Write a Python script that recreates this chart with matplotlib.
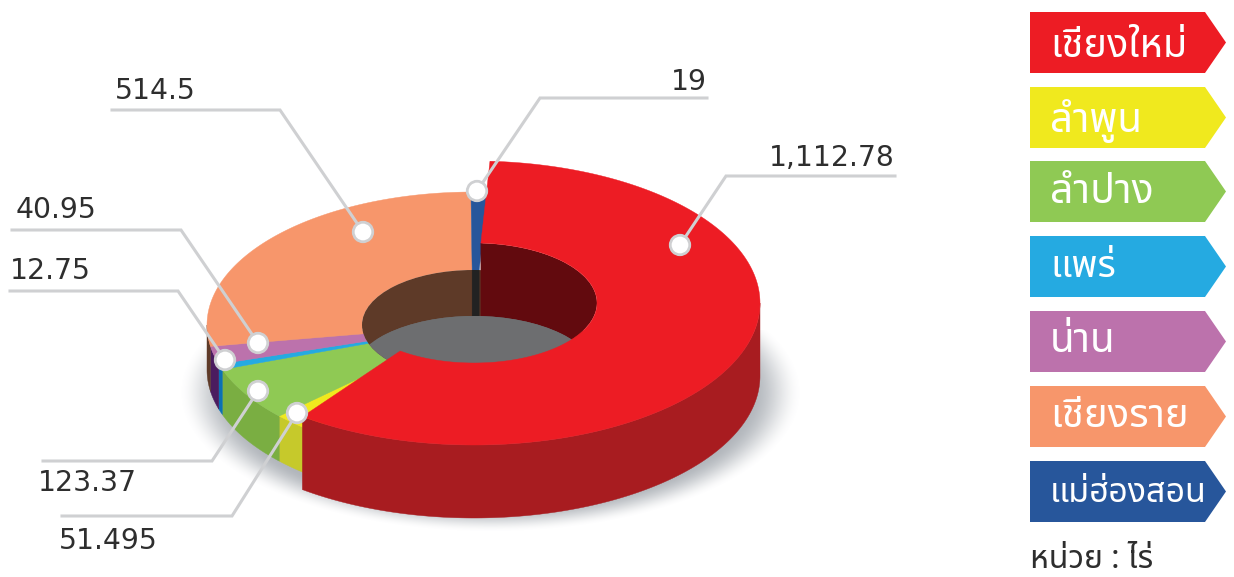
import numpy as np
import matplotlib
matplotlib.use("Agg")
import matplotlib.pyplot as plt
from matplotlib.patches import Polygon, Ellipse

# provinces and areas, clockwise starting with the big red slice
names = ['เชียงใหม่', 'ลำพูน', 'ลำปาง', 'แพร่', 'น่าน', 'เชียงราย', 'แม่ฮ่องสอน']
values = [1112.78, 51.495, 123.37, 12.75, 40.95, 514.5, 19]
value_labels = ['1,112.78', '51.495', '123.37', '12.75', '40.95', '514.5', '19']
unit_label = 'หน่วย : ไร่'

top_colors = ['#ED1C24', '#F0E91E', '#8FC954', '#25AAE1', '#BC72AC', '#F7966B', '#27569B']
wall_colors = ['#A81C20', '#C6C92B', '#7AAE42', '#0B70B5', '#4B1C5F', '#5E3A28', '#222222']

thai_font = ['Noto Sans Thai', 'Anuphan', 'DejaVu Sans']

plt.rcParams['font.family'] = ['DejaVu Sans']
fig = plt.figure(figsize=(12.34, 5.77), dpi=100)
ax = fig.add_axes([0, 0, 1, 1])
ax.set_xlim(0, 1234)
ax.set_ylim(577, 0)
ax.axis('off')

# red slice is taller and a bit larger than the rest
red_geo = dict(cx=474, cy=303, rx=286, ry=142, irx=123, iry=60, h=73)
rest_geo = dict(cx=473, cy=325, rx=266, ry=133, irx=111, iry=55, h=45)

start = 3.2
edges = start + np.concatenate([[0], np.cumsum(values)]) / np.sum(values) * 360


def rim(g, a0, a1, inner=False):
    # angles in degrees clockwise from the top
    t = np.radians(np.linspace(a0, a1, max(int(abs(a1 - a0)) * 2, 4)))
    rx = g['irx'] if inner else g['rx']
    ry = g['iry'] if inner else g['ry']
    return np.column_stack([g['cx'] + rx * np.sin(t), g['cy'] - ry * np.cos(t)])


def draw_top(g, a0, a1, color, z):
    pts = np.vstack([rim(g, a0, a1), rim(g, a1, a0, inner=True)])
    ax.add_patch(Polygon(pts, closed=True, fc=color, ec=color, lw=0.3, zorder=z))


def draw_wall(g, a0, a1, color, z, inner=False, h=None):
    h = g['h'] if h is None else h
    up = rim(g, a0, a1, inner)
    down = up[::-1] + [0, h]
    return ax.add_patch(Polygon(np.vstack([up, down]), closed=True, fc=color, ec=color, lw=0.3, zorder=z))


# soft shadow under the ring
yy, xx = np.mgrid[330:560, 150:840]
d = np.sqrt(((xx - 490) / 312) ** 2 + ((yy - 392) / 140) ** 2)
fade = np.clip((1.0 - d) / 0.17, 0, 1)
fade = fade * fade * (3 - 2 * fade)
shadow = np.zeros(d.shape + (4,))
shadow[..., :3] = [0.45, 0.48, 0.52]
shadow[..., 3] = 0.55 * fade
ax.imshow(shadow, extent=(150, 840, 560, 330), zorder=1, interpolation='bilinear', aspect='auto')
ax.set_xlim(0, 1234)
ax.set_ylim(577, 0)

# everything except the red slice
for i in range(1, 7):
    a0, a1 = edges[i], edges[i + 1]
    if a0 < 270:
        draw_wall(rest_geo, a0, min(a1, 270), wall_colors[i], 2)
    draw_top(rest_geo, a0, a1, top_colors[i], 3)

# the hole
hole_a = Ellipse((rest_geo['cx'], rest_geo['cy']), 2 * rest_geo['irx'], 2 * rest_geo['iry'],
                 fc=wall_colors[5], ec='none', zorder=4)
ax.add_patch(hole_a)
strip = draw_wall(rest_geo, edges[6], edges[7], wall_colors[6], 5, inner=True, h=70)
strip.set_clip_path(hole_a)
hole_r = Ellipse((red_geo['cx'], red_geo['cy']), 2 * red_geo['irx'], 2 * red_geo['iry'],
                 fc='none', ec='none', zorder=4)
ax.add_patch(hole_r)
inner_red = draw_wall(red_geo, edges[0], 125, '#620A0E', 5, inner=True, h=85)
inner_red.set_clip_path(hole_r)
for clip in [hole_a, hole_r]:
    floor = Ellipse((red_geo['cx'], red_geo['cy'] + 73), 2 * red_geo['irx'], 2 * red_geo['iry'],
                    fc='#6D6E70', ec='none', zorder=6)
    ax.add_patch(floor)
    floor.set_clip_path(clip)

# red slice on top of all of it
draw_wall(red_geo, 90, edges[1], wall_colors[0], 7)
draw_top(red_geo, edges[0], edges[1], top_colors[0], 8)

# leader lines: dot, elbow, end of the line, text anchor (same order as values)
dots = [(680, 245), (297, 413), (258, 391), (225, 360), (258, 343), (363, 232), (477, 191)]
elbows = [(726, 176), (232, 516), (212, 461), (178, 291), (181, 230), (280, 110), (540, 98)]
ends = [(895, 176), (62, 516), (43, 461), (10, 291), (12, 230), (112, 110), (707, 98)]
text_pos = [(895, 158, 'right'), (59, 541, 'left'), (38, 483, 'left'), (10, 271, 'left'),
            (16, 210, 'left'), (115, 91, 'left'), (707, 82, 'right')]
for i in range(7):
    ax.plot([dots[i][0], elbows[i][0], ends[i][0]], [dots[i][1], elbows[i][1], ends[i][1]],
            color='#CFD0D2', lw=2.2, zorder=9, solid_joinstyle='miter')
    ax.add_patch(Ellipse(dots[i], 19.5, 19.5, fc='white', ec='#CFD0D2', lw=2.0, zorder=10))
    ax.text(text_pos[i][0], text_pos[i][1], value_labels[i], ha=text_pos[i][2], va='center',
            fontsize=20.3, color='#2E2E2E', zorder=11)

# arrow shaped legend tabs on the right
tab_tops = [12, 87, 161, 236, 311, 386, 461]
tab_h = 61
name_sizes = [28.5, 29, 29.5, 27, 29, 28.8, 24.5]
name_base = [45, 45, 42, 41, 41, 41, 41]
for i in range(7):
    y0 = tab_tops[i]
    ax.add_patch(Polygon([(1030, y0), (1205, y0), (1226, y0 + tab_h / 2), (1205, y0 + tab_h), (1030, y0 + tab_h)],
                         closed=True, fc=top_colors[i], ec='none', zorder=3))
    ax.text(1050, y0 + name_base[i], names[i], family=thai_font, fontsize=name_sizes[i], fontweight='medium',
            color='white', ha='left', va='baseline', zorder=4)

ax.text(1030, 568, unit_label, family=thai_font, fontsize=23, color='#2E2E2E', ha='left', va='baseline')

fig.savefig('out.png', dpi=100)
